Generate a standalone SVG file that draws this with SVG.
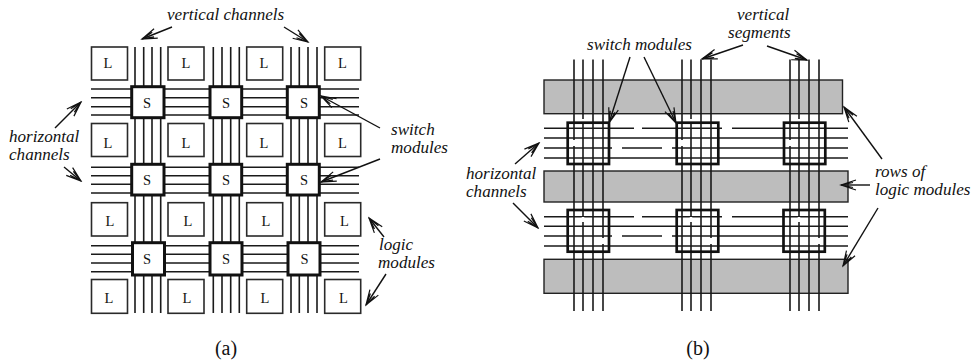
<svg xmlns="http://www.w3.org/2000/svg" width="975" height="364" viewBox="0 0 975 364">
<style>
.w{stroke:#1a1a1a;stroke-width:1.6;fill:none}
.l{fill:#fff;stroke:#2a2a2a;stroke-width:1.6}
.s{fill:#fff;stroke:#111;stroke-width:3}
.sb{fill:none;stroke:#111;stroke-width:2.7}
.g{fill:#bdbdbd;stroke:#222;stroke-width:1.4}
.a{stroke:#111;stroke-width:1.4;fill:none}
.gap{stroke:#fff;stroke-width:2.5;fill:none}
text{font-family:"Liberation Serif",serif;fill:#111}
.i{font-style:italic;font-size:17.1px}
.n{font-size:14.500px;text-anchor:middle}
.c{font-size:20px;text-anchor:middle}
</style>
<defs>
<marker id="ar" markerUnits="userSpaceOnUse" markerWidth="18" markerHeight="14" refX="16" refY="6" orient="auto" viewBox="0 0 18 12"><path d="M1 1L16 6L1 11M4 3.500L15 6M4 8.500L15 6" fill="none" stroke="#111" stroke-width="1.2"/></marker>
</defs>
<g id="connectors">
<path class="w" d="M135 47V313M143.700 47V313M152 47V313M160.700 47V313M213.300 47V313M222 47V313M230.700 47V313M239.300 47V313M291 47V313M299.300 47V313M308 47V313M317 47V313"/>
<path class="w" d="M91 89H359M91 97.700H359M91 106.700H359M91 115H359M91 167.300H359M91 175.700H359M91 184.300H359M91 193H359M91 245.700H359M91 254.300H359M91 263H359M91 271.700H359"/>
<g id="rows-b">
<rect class="g" x="544" y="80" width="298.500" height="33.700"/>
<rect class="g" x="544" y="171" width="304" height="31"/>
<rect class="g" x="544" y="259.300" width="304" height="34"/>
</g>
<path class="w" d="M574 59.500V311M583 59.500V311M593 59.500V311M603 59.500V311M682 59.500V311M691 59.500V311M701 59.500V311M711 59.500V311M790 59.500V311M799 59.500V311M809 59.500V311M819 59.500V311"/>
<path class="w" d="M544 128.300H634M642 128.300H722M732 128.300H848M544 138H848M544 148H612M622 148H662M672 148H848M544 158H848M544 216.700H634M642 216.700H722M732 216.700H848M544 226.300H848M544 236H612M622 236H662M672 236H848M544 246H848"/>
<path class="gap" d="M574 140V146M682 140V146M790 140V146M583 119V124M691 119V124M799 119V124M583 217V222M691 217V222M799 217V222M603 238V244M711 238V244M819 238V244"/>
<path class="a" marker-end="url(#ar)" d="M172 27L142 39"/>
<path class="a" marker-end="url(#ar)" d="M284 27L308 42"/>
<path class="a" marker-end="url(#ar)" d="M55 128L81 102"/>
<path class="a" marker-end="url(#ar)" d="M64 167L81 181"/>
<path class="a" marker-end="url(#ar)" d="M380 128L321 96"/>
<path class="a" marker-end="url(#ar)" d="M380 159L321 182"/>
<path class="a" marker-end="url(#ar)" d="M384 237L369 218"/>
<path class="a" marker-end="url(#ar)" d="M386 274L366 305"/>
<path class="a" marker-end="url(#ar)" d="M630 57L609 123"/>
<path class="a" marker-end="url(#ar)" d="M644 57L676 123"/>
<path class="a" marker-end="url(#ar)" d="M743 45L702 59"/>
<path class="a" marker-end="url(#ar)" d="M767 46L807 60"/>
<path class="a" marker-end="url(#ar)" d="M515 164L539 143"/>
<path class="a" marker-end="url(#ar)" d="M513 203L538 228"/>
<path class="a" marker-end="url(#ar)" d="M882 159L844 107"/>
<path class="a" marker-end="url(#ar)" d="M870 185L841 185"/>
<path class="a" marker-end="url(#ar)" d="M878 208L843 266"/>
</g>
<g id="l-modules">
<g id="l11"><rect class="l" x="91.500" y="47" width="36" height="33"/><text class="n" x="108" y="68">L</text></g>
<g id="l12"><rect class="l" x="168" y="47" width="36" height="33"/><text class="n" x="186" y="68">L</text></g>
<g id="l13"><rect class="l" x="246.700" y="47" width="36" height="33"/><text class="n" x="264" y="68">L</text></g>
<g id="l14"><rect class="l" x="324.700" y="47" width="36" height="33"/><text class="n" x="342.500" y="68">L</text></g>
<g id="l21"><rect class="l" x="91.500" y="123.500" width="36" height="33"/><text class="n" x="108" y="148">L</text></g>
<g id="l22"><rect class="l" x="168" y="123.500" width="36" height="33"/><text class="n" x="186" y="148">L</text></g>
<g id="l23"><rect class="l" x="246.700" y="123.500" width="36" height="33"/><text class="n" x="264" y="148">L</text></g>
<g id="l24"><rect class="l" x="324.700" y="123.500" width="36" height="33"/><text class="n" x="342.500" y="148">L</text></g>
<g id="l31"><rect class="l" x="91.500" y="202.700" width="36" height="33.300"/><text class="n" x="110" y="226">L</text></g>
<g id="l32"><rect class="l" x="168" y="202.700" width="36" height="33.300"/><text class="n" x="188" y="226">L</text></g>
<g id="l33"><rect class="l" x="246.700" y="202.700" width="36" height="33.300"/><text class="n" x="266" y="226">L</text></g>
<g id="l34"><rect class="l" x="324.700" y="202.700" width="36" height="33.300"/><text class="n" x="344.500" y="226">L</text></g>
<g id="l41"><rect class="l" x="91.500" y="279.500" width="36" height="33.800"/><text class="n" x="109" y="303">L</text></g>
<g id="l42"><rect class="l" x="168" y="279.500" width="36" height="33.800"/><text class="n" x="187" y="303">L</text></g>
<g id="l43"><rect class="l" x="246.700" y="279.500" width="36" height="33.800"/><text class="n" x="265" y="303">L</text></g>
<g id="l44"><rect class="l" x="324.700" y="279.500" width="36" height="33.800"/><text class="n" x="343.500" y="303">L</text></g>
</g>
<g id="s-modules">
<g id="s11"><rect class="s" x="131.700" y="86.700" width="32.300" height="31"/><text class="n" x="147" y="107.500">S</text></g>
<g id="s12"><rect class="s" x="210" y="86.700" width="31.700" height="31"/><text class="n" x="226" y="107.500">S</text></g>
<g id="s13"><rect class="s" x="287.300" y="86.700" width="32" height="31"/><text class="n" x="304" y="107.500">S</text></g>
<g id="s21"><rect class="s" x="131.700" y="164.300" width="32.300" height="30.700"/><text class="n" x="147" y="185">S</text></g>
<g id="s22"><rect class="s" x="210" y="164.300" width="31.700" height="30.700"/><text class="n" x="226" y="185">S</text></g>
<g id="s23"><rect class="s" x="287.300" y="164.300" width="32" height="30.700"/><text class="n" x="304" y="185">S</text></g>
<g id="s31"><rect class="s" x="132.500" y="242.700" width="32" height="32.300"/><text class="n" x="147" y="263.500">S</text></g>
<g id="s32"><rect class="s" x="210" y="242.700" width="32" height="32.300"/><text class="n" x="226" y="263.500">S</text></g>
<g id="s33"><rect class="s" x="288" y="242.700" width="32" height="32.300"/><text class="n" x="304.500" y="263.500">S</text></g>
</g>
<g id="switch-b">
<rect id="sb11" class="sb" x="567.700" y="122.700" width="41.300" height="41.300"/>
<rect id="sb12" class="sb" x="676.700" y="122.700" width="41.600" height="41.300"/>
<rect id="sb13" class="sb" x="784" y="122.700" width="41.300" height="41.300"/>
<rect id="sb21" class="sb" x="567.700" y="210" width="41.300" height="41.700"/>
<rect id="sb22" class="sb" x="676.700" y="210" width="41.600" height="41.700"/>
<rect id="sb23" class="sb" x="783.500" y="210" width="41.300" height="41.700"/>
</g>
<g id="labels">
<text class="i" x="167" y="20">vertical channels</text>
<text class="i" x="9" y="142">horizontal</text>
<text class="i" x="9" y="160">channels</text>
<text class="i" x="391" y="135">switch</text>
<text class="i" x="391" y="153">modules</text>
<text class="i" x="379" y="250">logic</text>
<text class="i" x="378" y="268">modules</text>
<text class="c" x="226" y="354.500">(a)</text>
<text class="i" x="587" y="50">switch modules</text>
<text class="i" x="737" y="20">vertical</text>
<text class="i" x="728" y="38">segments</text>
<text class="i" x="466" y="179">horizontal</text>
<text class="i" x="466" y="197">channels</text>
<text class="i" x="875" y="177">rows of</text>
<text class="i" x="875" y="195">logic modules</text>
<text class="c" x="698" y="354.500">(b)</text>
</g>
</svg>
